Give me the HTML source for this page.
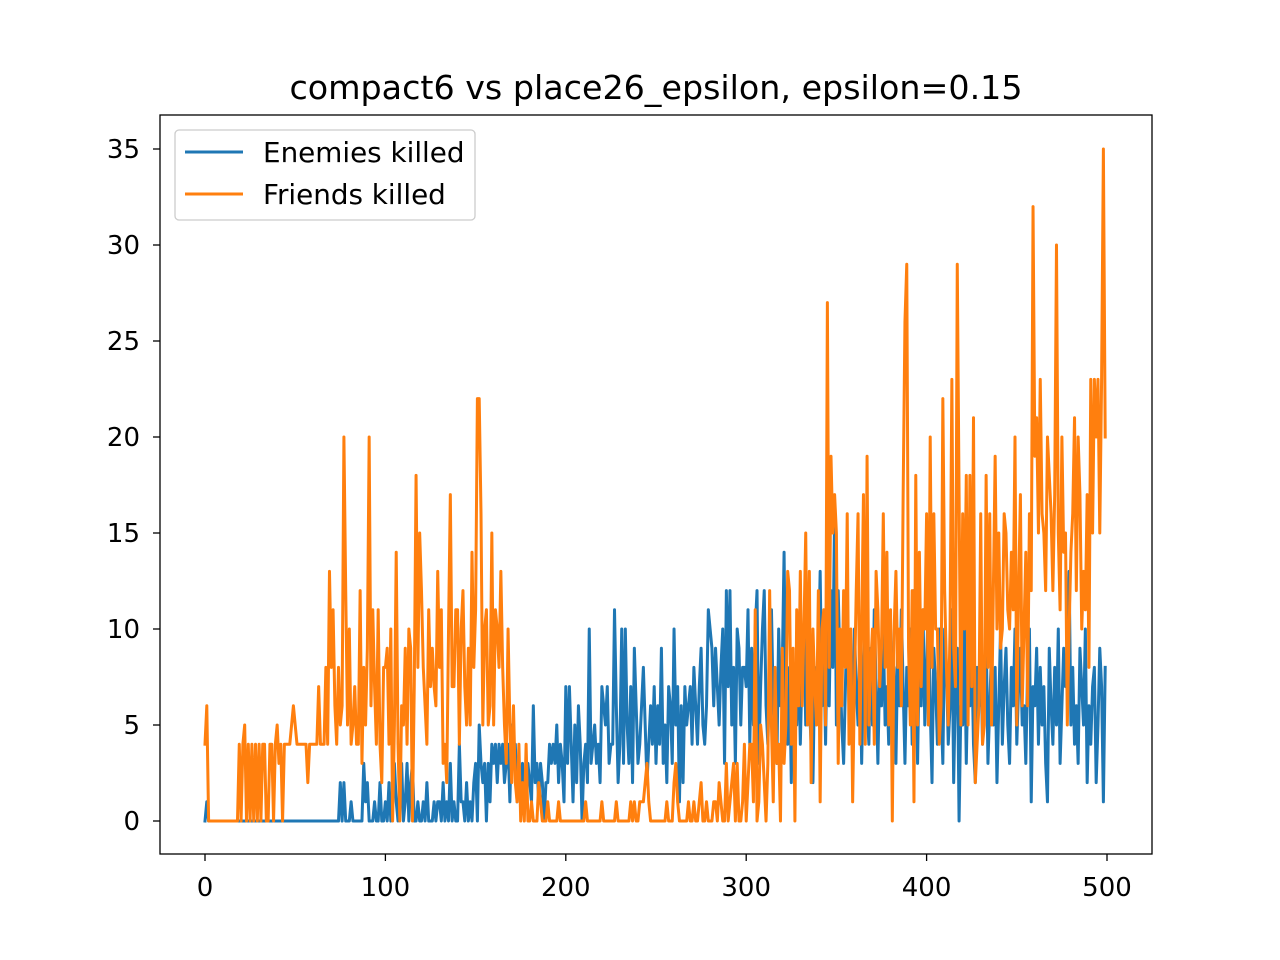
<!DOCTYPE html>
<html><head><meta charset="utf-8"><style>
body{margin:0;background:#fff;}
svg{display:block;font-family:"DejaVu Sans","Liberation Sans",sans-serif;}
</style></head><body>
<svg id="chart" width="1280" height="960">
<rect width="1280" height="960" fill="#fff"/>
<text x="656" y="99" font-size="33.3" text-anchor="middle">compact6 vs place26_epsilon, epsilon=0.15</text>
<g id="axes"></g>
<g id="series"></g>
<rect x="160" y="115" width="992" height="739" fill="none" stroke="#000" stroke-width="1.3"/>
<g>
<rect x="175" y="130" width="300" height="90" rx="4" fill="#fff" fill-opacity="0.8" stroke="#ccc" stroke-width="1.3"/>
<line x1="185" y1="152" x2="243" y2="152" stroke="#1f77b4" stroke-width="3"/>
<text x="263" y="162" font-size="27.8">Enemies killed</text>
<line x1="185" y1="194" x2="243" y2="194" stroke="#ff7f0e" stroke-width="3"/>
<text x="263" y="204" font-size="27.8">Friends killed</text>
</g>
</svg>
<script>
const xTicks=[0,100,200,300,400,500];
const yTicks=[0,5,10,15,20,25,30,35];
const friends=[4,6,0,0,0,0,0,0,0,0, 0,0,0,0,0,0,0,0,0,4, 0,4,5,0,4,0,4,0,4,0, 4,0,4,4,0,0,4,4,0,4,
5,3,4,0,4,4,4,4,5,6, 5,4,4,4,4,4,4,2,4,4, 4,4,4,7,4,4,4,8,4,13, 8,11,6,4,8,5,6,20,12,5,
10,4,5,7,4,4,12,3,8,5, 9,20,6,11,7,4,11,4,2,8, 8,9,4,10,0,5,14,4,0,6, 5,9,4,10,9,0,7,18,8,15,
12,8,6,4,11,7,9,7,6,13, 8,11,3,4,2,10,17,7,7,11, 11,4,10,12,7,5,9,5,14,8, 11,22,22,16,5,10,11,5,6,15,
5,11,10,8,13,8,5,3,10,5, 2,6,2,1,4,0,2,0,4,0, 0,1,0,0,0,2,1,0,0,0, 1,0,0,0,0,0,1,0,0,0,
0,0,0,0,0,0,0,0,0,0, 0,1,0,0,0,0,0,0,0,0, 1,0,0,0,0,0,0,0,1,0, 0,0,0,0,0,0,1,0,1,0,
0,1,1,1,2,3,1,0,0,0, 0,0,0,0,0,0,1,0,0,0, 2,3,1,0,0,0,0,0,1,0, 0,1,0,0,1,2,0,0,1,0,
0,0,1,1,0,2,1,0,0,3, 0,1,2,3,0,3,0,0,1,4, 0,2,4,4,1,11,0,1,5,4, 2,0,3,12,5,1,8,3,4,0,
9,3,5,13,12,4,9,0,11,6, 13,6,10,15,5,13,2,10,7,5, 12,1,10,11,5,27,8,19,15,17, 15,3,10,6,12,8,16,4,10,1,
7,12,16,4,10,17,4,19,5,8, 10,4,13,11,7,9,16,8,14,5, 11,0,10,13,8,10,6,17,26,29, 9,5,12,1,18,5,14,7,11,10,
16,5,20,8,16,10,10,4,6,22, 12,8,5,10,23,9,7,29,17,5, 16,10,18,5,18,7,21,2,4,6, 16,4,5,18,8,16,5,12,19,10,
15,9,10,16,15,11,10,14,11,20, 5,12,17,6,10,14,6,16,12,32, 19,21,15,23,16,15,12,20,18,16, 12,17,30,15,11,20,14,15,5,10,
14,16,21,12,20,17,10,13,11,17, 8,23,15,23,20,23,15,23,35,20];
const enemies=[0,1,0,0,0,0,0,0,0,0, 0,0,0,0,0,0,0,0,0,0, 0,0,0,0,0,0,0,0,0,0, 0,0,0,0,0,0,0,0,0,0,
0,0,0,0,0,0,0,0,0,0, 0,0,0,0,0,0,0,0,0,0, 0,0,0,0,0,0,0,0,0,0, 0,0,0,0,0,2,0,2,0,0,
0,1,0,0,0,0,0,0,3,1, 2,0,0,0,1,0,0,2,0,0, 1,0,2,0,1,3,1,0,2,3, 0,1,3,0,2,3,0,0,1,0,
0,1,0,2,0,0,0,1,0,1, 1,0,2,0,1,0,3,0,1,0, 0,4,1,1,0,2,0,1,0,2, 3,0,5,3,2,3,0,3,1,4,
3,4,2,4,3,4,2,3,4,1, 5,3,4,1,3,2,3,1,2,3, 2,1,6,2,3,1,3,2,0,2, 2,4,3,4,3,5,2,4,3,1,
7,3,7,4,1,5,2,6,4,0, 3,4,2,10,3,4,5,3,4,2, 7,6,5,7,3,4,4,11,6,2, 4,10,3,10,5,3,7,2,9,6,
3,4,6,8,5,2,4,6,4,7, 3,6,4,9,3,5,2,7,6,3, 10,5,7,1,6,2,7,5,6,7, 4,8,6,4,7,9,5,4,6,11,
10,9,6,9,7,5,8,10,3,12, 7,12,5,8,3,10,9,5,8,8, 7,11,4,9,5,10,12,3,7,10, 12,6,4,8,11,6,5,3,10,6,
8,14,5,4,8,2,8,6,5,9, 4,8,10,5,9,6,4,2,8,7, 8,13,6,9,4,10,6,12,8,16, 5,12,8,5,3,7,11,6,9,4,
10,7,5,9,3,8,10,6,4,9, 5,11,7,3,8,6,10,5,7,4, 10,6,8,3,9,6,11,7,3,8, 6,10,4,12,8,3,9,6,11,5,
8,12,6,2,9,7,4,10,6,3, 10,8,4,6,11,2,7,9,0,6, 5,10,3,8,6,9,4,2,8,6, 9,4,7,10,3,6,9,5,8,2,
6,10,4,7,9,5,3,8,6,10, 4,7,9,5,6,3,8,10,1,7, 6,9,4,8,5,7,3,1,9,6, 4,8,5,10,3,6,9,7,8,13,
5,8,4,6,3,9,7,5,10,2, 6,4,7,8,2,5,9,7,1,8];
const NS='http://www.w3.org/2000/svg';
const xs=v=>205+v*(1107-205)/500;
const ys=v=>821-v*(821-149)/35;
const axes=document.getElementById('axes');
function mk(tag,attrs,parent){const e=document.createElementNS(NS,tag);for(const k in attrs)e.setAttribute(k,attrs[k]);parent.appendChild(e);return e;}
xTicks.forEach(t=>{
  const l=mk('line',{x1:xs(t),x2:xs(t),y1:854,y2:861,stroke:'#000','stroke-width':1.3},axes);
  
  
  const tx=mk('text',{x:xs(t),y:896,'font-size':26,'text-anchor':'middle'},axes);
  tx.textContent=t;
  
  
});
yTicks.forEach(t=>{
  const l=mk('line',{x1:153,x2:160,y1:ys(t),y2:ys(t),stroke:'#000','stroke-width':1.3},axes);
  
  
  const tx=mk('text',{x:140,y:ys(t)+9,'font-size':26,'text-anchor':'end'},axes);
  tx.textContent=t;
  
  
});
const sg=document.getElementById('series');
function line(data,color,name){
  const d=data.map((v,i)=>(i?'L':'M')+xs(i).toFixed(2)+','+ys(v).toFixed(2)).join('');
  const p=mk('path',{d:d,fill:'none',stroke:color,'stroke-width':3,'stroke-linejoin':'round','stroke-linecap':'square'},sg);
  
  
}
line(enemies,'#1f77b4','enemies-killed-line');
line(friends,'#ff7f0e','friends-killed-line');
</script>
</body></html>
